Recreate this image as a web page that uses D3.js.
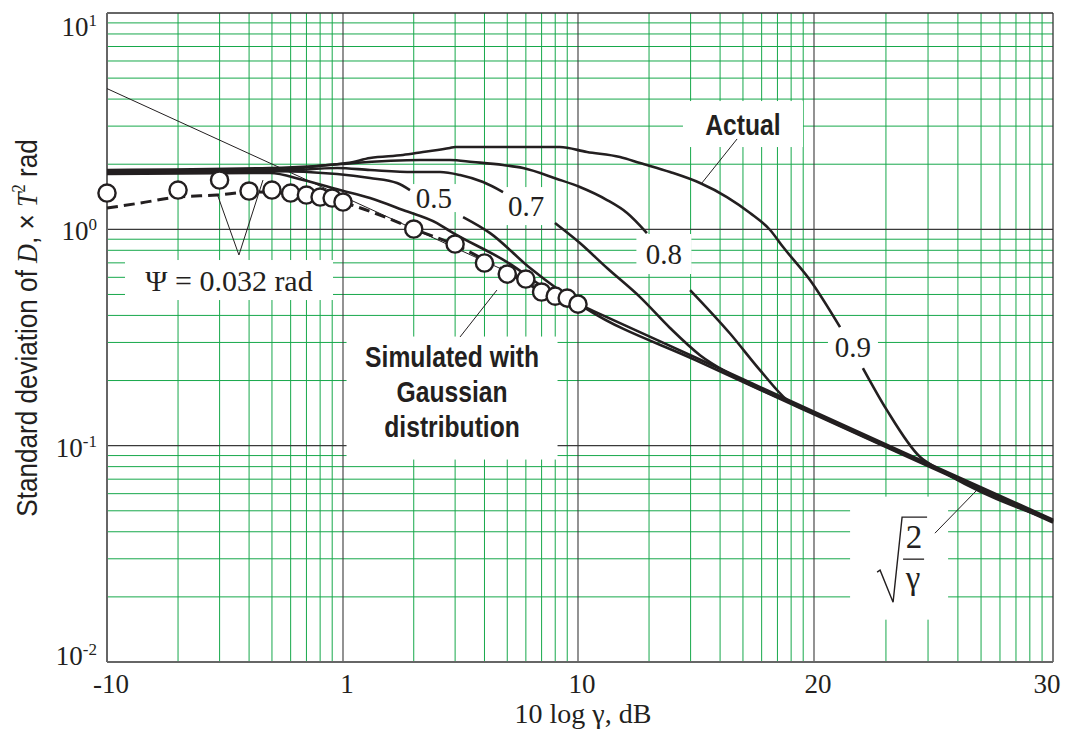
<!DOCTYPE html>
<html>
<head>
<meta charset="utf-8">
<script src="https://cdn.jsdelivr.net/npm/d3@7"></script>
<style>
  body { margin: 0; background: #fff; }
  svg { display: block; }
</style>
</head>
<body>
<svg id="chart" width="1065" height="731"></svg>
<script>
// ---- axis ticks ----------------------------------------------------------
const xTickValues = [-10, 0, 10, 20, 30];          // 10 log γ, dB
const xTickLabels = ["-10", "1", "10", "20", "30"];
const yTickValues = [0.01, 0.1, 1, 10];
const yTickExponents = ["-2", "-1", "0", "1"];

// ---- series: [dB, standard deviation] (null = break for a label) ---------
const curvePsi = [[-10,1.802],[-3.09,1.821],[-1.69,1.690],[-0.13,1.519],[1.15,1.395],[2.55,1.228],
  [4.00,1.069],[4.55,0.982],[6.98,0.706],[8.94,0.507],[10.64,0.420],[15,0.2550],[20,0.1435],[25,0.0807],[30,0.0455]];
const curve05 = [[-10,1.821],[-3.09,1.860],[-0.25,1.802],[1.15,1.726],[2.30,1.637],[2.85,1.519],[4.0,null],
  [5.11,1.140],[6.26,0.961],[7.96,0.662],[9.23,0.520],[10.38,0.428],[15,0.2480],[20,0.1395],[25,0.0784],[30,0.0441]];
const curve07 = [[-10,1.840],[-2.67,1.860],[-0.25,1.920],[1.15,1.880],[2.98,1.840],[4.13,1.840],[4.98,1.782],
  [5.96,1.654],[6.81,1.487],[8.0,null],[9.02,1.069],[10.08,0.864],[11.23,0.662],[12.63,0.486],[13.90,0.350],
  [15.17,0.262],[16.5,0.2125],[20,0.1420],[25,0.0798],[30,0.0449]];
const curve08 = [[-10,1.860],[-3.09,1.880],[-0.13,2.004],[3.28,2.091],[4.55,2.091],[5.53,2.047],[6.81,1.983],
  [7.66,1.920],[9.11,1.710],[10.08,1.569],[11.23,1.366],[12.08,1.190],[12.92,0.961],[13.8,null],[14.75,0.524],
  [16.44,0.330],[17.71,0.2236],[18.86,0.1625],[20,0.1410],[25,0.0792],[30,0.0446]];
const curve09 = [[-10,1.880],[-3.09,1.920],[0.17,2.025],[1.15,2.136],[2.55,2.206],[3.40,2.277],[4.55,2.376],
  [4.77,2.402],[9.23,2.402],[10.38,2.277],[11.78,2.159],[12.63,2.025],[13.90,1.840],[15.17,1.637],[16.31,1.410],
  [17.29,1.190],[18.14,0.993],[18.69,0.828],[19.83,0.583],[21.09,0.353],[21.5,null],[22.05,0.228],[23.05,0.146],
  [24.44,0.0886],[25.2,0.0781],[30,0.0450]];

// bound sqrt(2/γ)
const boundDB = [-10, 30];
const boundValue = [4.472, 0.0447];

// dashed Ψ = 0.032 rad
const dashedDB = [-10,-8.60,-6.99,-5.34,-3.94,-2.25,-0.97,-0.04,1.57,3.02,4.77,6.68,8.38,9.96];
const dashedValue = [1.254,1.323,1.410,1.440,1.487,1.471,1.425,1.337,1.164,1.003,0.846,0.662,0.524,0.451];

// simulated with Gaussian distribution (circles)
const simDB = [-10,-6.99,-5.23,-3.98,-3.01,-2.22,-1.55,-0.97,-0.46,0,3.01,4.77,6.02,6.99,7.78,8.45,9.03,9.54,10];
const simValue = [1.471,1.519,1.690,1.503,1.519,1.471,1.440,1.410,1.395,1.337,1.003,0.855,0.699,0.621,0.589,0.513,0.491,0.481,0.451];

// ---- scales --------------------------------------------------------------
const x = d3.scaleLinear().domain(xTickValues).range([107, 343, 578, 814, 1053]);
const y = d3.scaleLog().domain([0.01, 10]).range([662, 13]);
const X0 = 107, X1 = 1053, Y0 = 13, Y1 = 662;

const SERIF = "'Liberation Serif','Times New Roman',serif";
const SANS = "'Liberation Sans',Arial,Helvetica,sans-serif";
const INK = "#231f20";
const GREEN = "#17a84b";

const svg = d3.select("#chart");

// ---- grid ----------------------------------------------------------------
const grid = svg.append("g");
const xMinor = [];
[-10, 0, 10, 20].forEach(d0 => { for (let k = 2; k <= 9; k++) xMinor.push(d0 + 10 * Math.log10(k)); });
const yMinor = y.ticks().filter(v => Math.abs(Math.log10(v) - Math.round(Math.log10(v))) > 1e-6);

grid.selectAll(".vx").data(xMinor).join("line")
  .attr("x1", d => x(d)).attr("x2", d => x(d)).attr("y1", Y0).attr("y2", Y1)
  .attr("stroke", GREEN).attr("stroke-width", 1);
grid.selectAll(".hy").data(yMinor).join("line")
  .attr("x1", X0).attr("x2", X1).attr("y1", d => y(d)).attr("y2", d => y(d))
  .attr("stroke", GREEN).attr("stroke-width", 1);

// decade lines
grid.selectAll(".dx").data([0, 10, 20]).join("line")
  .attr("x1", d => x(d)).attr("x2", d => x(d)).attr("y1", Y0).attr("y2", Y1)
  .attr("stroke", "#3a3a3a").attr("stroke-width", 1.1);
grid.selectAll(".dy").data([0.1, 1]).join("line")
  .attr("x1", X0).attr("x2", X1).attr("y1", d => y(d)).attr("y2", d => y(d))
  .attr("stroke", "#3a3a3a").attr("stroke-width", 1.1);

// frame
svg.append("line").attr("x1", X0).attr("x2", X1).attr("y1", Y0).attr("y2", Y0).attr("stroke", "#333").attr("stroke-width", 1.3);
svg.append("line").attr("x1", X1).attr("x2", X1).attr("y1", Y0).attr("y2", Y1).attr("stroke", "#333").attr("stroke-width", 1.3);
svg.append("line").attr("x1", X0).attr("x2", X0).attr("y1", Y0).attr("y2", Y1).attr("stroke", "#666").attr("stroke-width", 2);
svg.append("line").attr("x1", X0).attr("x2", X1).attr("y1", Y1).attr("y2", Y1).attr("stroke", "#666").attr("stroke-width", 2);

// ---- label boxes (white backgrounds that break the grid) -----------------
// centre given in data units, size in pixels
const boxes = [
  { db: 3.87,  v: 1.395,  w: 46,  h: 28 },   // 0.5
  { db: 7.79,  v: 1.281,  w: 53,  h: 38 },   // 0.7
  { db: 13.64, v: 0.769,  w: 55,  h: 40 },   // 0.8
  { db: 21.63, v: 0.2857, w: 50,  h: 40 },   // 0.9
  { db: 16.99, v: 3.067,  w: 120, h: 46 },   // Actual
  { db: 4.64,  v: 0.166,  w: 211, h: 123 },  // Simulated ...
  { db: -4.83, v: 0.583,  w: 208, h: 40 },   // Ψ
  { db: 23.56, v: 0.0302, w: 98,  h: 123 }   // sqrt(2/γ)
];
svg.append("g").selectAll("rect").data(boxes).join("rect")
  .attr("x", d => x(d.db) - d.w / 2).attr("y", d => y(d.v) - d.h / 2)
  .attr("width", d => d.w).attr("height", d => d.h).attr("fill", "#fff");

// ---- series --------------------------------------------------------------
const line = d3.line()
  .defined(d => d[1] != null)
  .x(d => x(d[0])).y(d => y(d[1]))
  .curve(d3.curveMonotoneX);

// sqrt(2/γ) bound, thin
svg.append("path")
  .datum(boundDB.map((d, i) => [d, boundValue[i]]))
  .attr("d", line).attr("fill", "none").attr("stroke", INK).attr("stroke-width", 1);

const curves = [curvePsi, curve05, curve07, curve08, curve09];
svg.append("g").selectAll("path").data(curves).join("path")
  .attr("d", line).attr("fill", "none").attr("stroke", INK)
  .attr("stroke-width", 2.6).attr("stroke-linejoin", "round");

svg.append("path")
  .datum(dashedDB.map((d, i) => [d, dashedValue[i]]))
  .attr("d", line).attr("fill", "none").attr("stroke", INK)
  .attr("stroke-width", 3).attr("stroke-dasharray", "11,6");

svg.append("g").selectAll("circle").data(simDB.map((d, i) => [d, simValue[i]])).join("circle")
  .attr("cx", d => x(d[0])).attr("cy", d => y(d[1])).attr("r", 8.6)
  .attr("fill", "#fff").attr("stroke", INK).attr("stroke-width", 2.4);

// ---- leader lines --------------------------------------------------------
const leaders = [
  [[-5.30, 1.425], [-4.41, 0.761], [-3.39, 1.690]],
  [[16.74, 2.616], [15.25, 1.637]],
  [[4.98, 0.318], [6.55, 0.524]],
  [[25.06, 0.0394], [26.9, 0.0637]]
];
const straight = d3.line().x(d => x(d[0])).y(d => y(d[1]));
svg.append("g").selectAll("path").data(leaders).join("path")
  .attr("d", straight).attr("fill", "none").attr("stroke", INK).attr("stroke-width", 1);

// ---- annotation text -----------------------------------------------------
const numLabels = [
  { t: "0.5", i: 0 }, { t: "0.7", i: 1 }, { t: "0.8", i: 2 }, { t: "0.9", i: 3 }
];
svg.append("g").selectAll("text").data(numLabels).join("text")
  .attr("x", d => x(boxes[d.i].db)).attr("y", d => y(boxes[d.i].v) + 10)
  .attr("text-anchor", "middle").attr("font-family", SERIF).attr("font-size", 29)
  .attr("fill", INK).text(d => d.t);

const bActual = boxes[4];
svg.append("text")
  .attr("transform", `translate(${x(bActual.db)},${y(bActual.v) + 11}) scale(0.85,1)`)
  .attr("text-anchor", "middle").attr("font-family", SANS).attr("font-weight", "bold")
  .attr("font-size", 29).attr("fill", INK).text("Actual");

const bSim = boxes[5];
["Simulated with", "Gaussian", "distribution"].forEach((t, i) => {
  svg.append("text")
    .attr("transform", `translate(${x(bSim.db)},${y(bSim.v) - 31 + i * 35}) scale(0.85,1)`)
    .attr("text-anchor", "middle").attr("font-family", SANS).attr("font-weight", "bold")
    .attr("font-size", 29).attr("fill", INK).text(t);
});

const bPsi = boxes[6];
svg.append("text")
  .attr("x", x(bPsi.db)).attr("y", y(bPsi.v) + 11)
  .attr("text-anchor", "middle").attr("font-family", SERIF).attr("font-size", 30)
  .attr("fill", INK).text("Ψ = 0.032 rad");

// sqrt(2/γ)
const bRoot = boxes[7];
const rg = svg.append("g").attr("transform", `translate(${x(bRoot.db)},${y(bRoot.v)})`);
rg.append("path")
  .attr("d", "M-22,14 L-19,12 L-6,44 L3,-41 L28,-41")
  .attr("fill", "none").attr("stroke", INK).attr("stroke-width", 1.4).attr("stroke-linejoin", "miter");
rg.append("text").attr("x", 15).attr("y", -10).attr("text-anchor", "middle")
  .attr("font-family", SERIF).attr("font-size", 33).attr("fill", INK).text("2");
rg.append("line").attr("x1", 4).attr("x2", 25).attr("y1", 1).attr("y2", 1)
  .attr("stroke", INK).attr("stroke-width", 1.3);
rg.append("text").attr("x", 14).attr("y", 31).attr("text-anchor", "middle")
  .attr("font-family", SERIF).attr("font-size", 33).attr("fill", INK).text("γ");

// ---- axes labels ---------------------------------------------------------
svg.append("g").selectAll("text").data(xTickValues).join("text")
  .attr("x", d => Math.min(x(d) + 4, 1047)).attr("y", 693)
  .attr("text-anchor", "middle").attr("font-family", SERIF).attr("font-size", 27)
  .attr("fill", INK).text((d, i) => xTickLabels[i]);

const yt = svg.append("g").selectAll("text").data(yTickValues).join("text")
  .attr("x", 97).attr("y", d => Math.min(Math.max(y(d) + 11, 36), 665))
  .attr("text-anchor", "end").attr("font-family", SERIF).attr("font-size", 27).attr("fill", INK);
yt.append("tspan").text("10");
yt.append("tspan").attr("font-size", 17).attr("dy", -10).text((d, i) => yTickExponents[i]);

svg.append("text")
  .attr("x", 583).attr("y", 723).attr("text-anchor", "middle")
  .attr("font-family", SERIF).attr("font-size", 28).attr("fill", INK)
  .text("10 log γ, dB");

const yl = svg.append("text")
  .attr("transform", "translate(37,328) rotate(-90) scale(0.87,1)")
  .attr("text-anchor", "middle").attr("font-family", SANS).attr("font-size", 30).attr("fill", INK);
yl.append("tspan").text("Standard deviation of ");
yl.append("tspan").attr("font-family", SERIF).attr("font-style", "italic").text("D");
yl.append("tspan").text(", × ");
yl.append("tspan").attr("font-family", SERIF).attr("font-style", "italic").text("T");
yl.append("tspan").attr("font-family", SERIF).attr("font-size", 19).attr("dy", -12).text("2");
yl.append("tspan").attr("dy", 12).text(" rad");
</script>
</body>
</html>
